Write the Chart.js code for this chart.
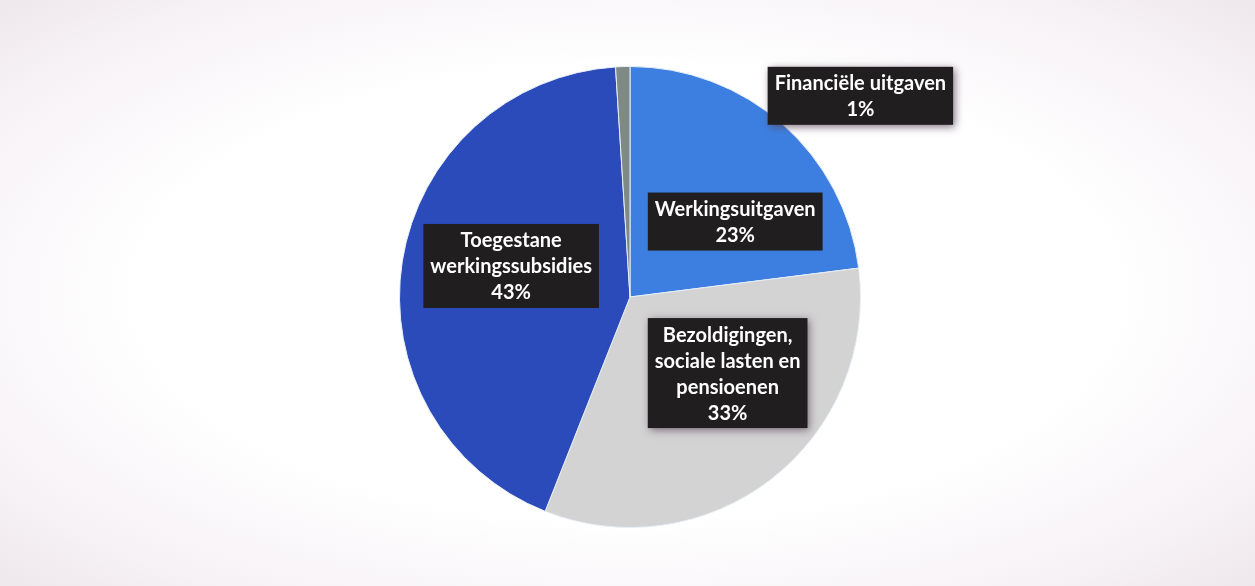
<!DOCTYPE html>
<html>
<head>
<meta charset="utf-8">
<script src="https://cdn.jsdelivr.net/npm/chart.js@4/dist/chart.umd.min.js"></script>
<style>
  html, body { margin: 0; padding: 0; }
  body {
    width: 1255px; height: 586px; overflow: hidden;
    background: radial-gradient(ellipse at 50% 50%, #ffffff 55%, #f6f1f5 85%, #eee7ec 100%);
  }
  #wrap { position: relative; width: 1255px; height: 586px; }
</style>
</head>
<body>
<div id="wrap"><canvas id="chart"></canvas></div>
<script>
// categories and values (percent of total)
const categories = [
  ['Werkingsuitgaven'],
  ['Bezoldigingen,', 'sociale lasten en', 'pensioenen'],
  ['Toegestane', 'werkingssubsidies'],
  ['Financiële uitgaven']
];
const values = [23, 33, 43, 1];
const valueLabels = ['23%', '33%', '43%', '1%'];

// styling
const sliceColors = ['#3d7fe0', '#d3d3d3', '#2a4bb9', '#7f8a86'];
// label box shift from each slice's centre point (px)
const labelShift = [[29, 11], [27, -15], [-5, -13], [234, -86]];
const labelShadow = [false, true, false, true];

const boxLabels = {
  id: 'boxLabels',
  afterDatasetsDraw(chart) {
    const ctx = chart.ctx;
    const arcs = chart.getDatasetMeta(0).data;
    ctx.save();
    ctx.font = 'bold 20px Lato, "Open Sans", sans-serif';
    ctx.textAlign = 'center';
    ctx.textBaseline = 'middle';
    const lineH = 26;
    arcs.forEach((arc, i) => {
      const p = arc.tooltipPosition();
      const cx = p.x + labelShift[i][0];
      const cy = p.y + labelShift[i][1];
      const lines = categories[i].concat([valueLabels[i]]);
      let w = 0;
      lines.forEach(l => { w = Math.max(w, ctx.measureText(l).width); });
      const bw = w + 14;
      const bh = lines.length * lineH + 6;
      ctx.save();
      if (labelShadow[i]) {
        ctx.shadowColor = 'rgba(90, 70, 90, 0.75)';
        ctx.shadowBlur = 8;
        ctx.shadowOffsetX = 2;
        ctx.shadowOffsetY = 2;
      }
      ctx.fillStyle = '#201e1e';
      ctx.fillRect(cx - bw / 2, cy - bh / 2, bw, bh);
      ctx.restore();
      ctx.fillStyle = '#ffffff';
      lines.forEach((l, k) => {
        ctx.fillText(l, cx, cy - bh / 2 + 3 + lineH * k + lineH / 2 + 1);
      });
    });
    ctx.restore();
  }
};

new Chart(document.getElementById('chart'), {
  type: 'pie',
  data: {
    labels: categories.map(c => c.join(' ')),
    datasets: [{
      data: values,
      backgroundColor: sliceColors,
      borderColor: '#e8eef8',
      borderWidth: 1
    }]
  },
  options: {
    responsive: true,
    maintainAspectRatio: false,
    animation: false,
    layout: { padding: { top: 66, bottom: 58, left: 5, right: 0 } },
    plugins: {
      legend: { display: false },
      tooltip: { enabled: false }
    }
  },
  plugins: [boxLabels]
});
</script>
</body>
</html>
